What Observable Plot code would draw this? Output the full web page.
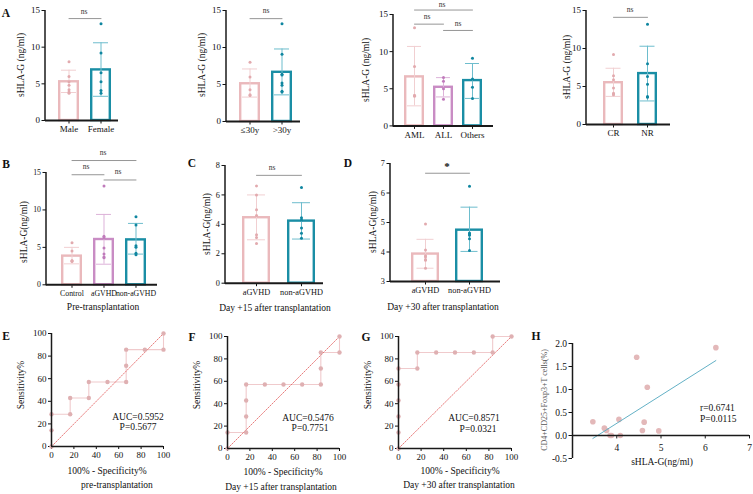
<!DOCTYPE html>
<html><head><meta charset="utf-8">
<script src="https://cdn.jsdelivr.net/npm/d3@7"></script>
<script src="https://cdn.jsdelivr.net/npm/@observablehq/plot@0.6"></script>
<style>
body{margin:0;background:#fff;}
#fig{position:relative;width:753px;height:494px;overflow:hidden;background:#fff;}
</style></head><body><div id="fig"></div><script>
// ---------------- DATA ----------------
const sexCats = ["Male", "Female"];
const sexMean = [5.28, 6.9];
const sexLo = [3.82, 3.3];
const sexHi = [6.86, 10.6];
const sexPts = [[8.0, 6.0, 5.3, 4.8, 4.2, 3.9, 3.7], [13.2, 9.2, 6.5, 5.3, 4.1, 3.7]];

const ageCats = ["≤30y", ">30y"];
const ageMean = [5.1, 6.65];
const ageLo = [3.3, 3.6];
const ageHi = [7.1, 9.8];
const agePts = [[8.0, 6.0, 4.3, 3.6, 3.5], [13.2, 9.1, 6.4, 6.3, 5.2, 4.9, 4.1, 4.0]];

const typeCats = ["AML", "ALL", "Others"];
const typeMean = [6.6, 5.2, 6.1];
const typeLo = [2.7, 3.9, 3.7];
const typeHi = [10.7, 6.5, 8.4];
const typePts = [[13.2, 8.0, 4.1, 4.0, 4.1], [6.5, 6.0, 5.0, 3.6], [9.1, 6.3, 5.2, 3.7]];

const respCats = ["CR", "NR"];
const respMean = [5.5, 6.7];
const respLo = [3.7, 3.1];
const respHi = [7.4, 10.3];
const respPts = [[9.2, 6.4, 5.9, 4.8, 4.1, 3.9, 4.0], [13.2, 8.0, 6.3, 5.3, 3.6, 3.7]];

const preCats = ["Control", "aGVHD", "non-aGVHD"];
const preMean = [3.83, 6.05, 6.0];
const preLo = [2.8, 2.75, 4.1];
const preHi = [5.0, 9.4, 8.2];
const prePts = [[5.6, 4.5, 3.2, 3.2, 3.1], [13.2, 6.5, 6.3, 4.9, 4.1, 3.7, 3.6], [9.1, 8.0, 5.2, 5.0, 4.2, 4.0]];

const d15Cats = ["aGVHD", "non-aGVHD"];
const d15Mean = [4.45, 4.22];
const d15Lo = [2.95, 3.0];
const d15Hi = [6.0, 5.47];
const d15Pts = [[6.6, 6.0, 5.0, 4.6, 3.3, 3.1, 2.7], [6.5, 4.45, 4.3, 3.75, 3.4, 3.05]];

const d30Cats = ["aGVHD", "non-aGVHD"];
const d30Mean = [3.93, 4.74];
const d30Lo = [3.45, 4.02];
const d30Hi = [4.43, 5.52];
const d30Pts = [[4.95, 4.07, 3.87, 3.83, 3.75, 3.72, 3.45], [6.23, 4.64, 4.61, 4.57, 4.45, 4.05]];

const ticks15 = [0, 5, 10, 15];
const ticks8 = [0, 2, 4, 6, 8];
const ticksD = [3, 4, 5, 6, 7];

const rocTicks = [0, 20, 40, 60, 80, 100];
const rocDiag = [0, 100];
const rocPreX = [0, 0, 0, 16.67, 16.67, 33.33, 33.33, 50, 66.67, 66.67, 66.67, 83.33, 100, 100];
const rocPreY = [0, 14.29, 28.57, 28.57, 42.86, 42.86, 57.14, 57.14, 57.14, 71.43, 85.71, 85.71, 85.71, 100];
const roc15X = [0, 0, 16.67, 16.67, 16.67, 16.67, 33.33, 50, 66.67, 83.33, 83.33, 83.33, 100, 100];
const roc15Y = [0, 14.29, 14.29, 28.57, 42.86, 57.14, 57.14, 57.14, 57.14, 57.14, 71.43, 85.71, 85.71, 100];
const roc30X = [0, 0, 0, 0, 0, 0, 16.67, 16.67, 33.33, 50, 66.67, 83.33, 83.33, 100];
const roc30Y = [0, 14.29, 28.57, 42.86, 57.14, 71.43, 71.43, 85.71, 85.71, 85.71, 85.71, 85.71, 100, 100];

const corrX = [3.46, 3.72, 3.77, 3.85, 3.88, 4.05, 4.08, 4.45, 4.62, 4.58, 4.69, 4.95, 6.24];
const corrY = [0.30, 0.16, 0.11, 0.00, 0.00, 0.35, 0.00, 1.70, 0.29, 0.11, 1.05, 0.10, 1.91];
const corrXTicks = [4, 5, 6, 7];
const corrYTicks = [-0.5, 0, 0.5, 1, 1.5, 2];

// ---------------- STYLE / LAYOUT ----------------
const FONT = '"Liberation Serif","Times New Roman",serif';
const PINK = {bar: "#eab9bc", pt: "#e2aaae", err: "#f1cfd1"};
const PURP = {bar: "#c98cc4", pt: "#c07bbb", err: "#ddb3d9"};
const TEAL = {bar: "#1a8ea5", pt: "#0f86a0", err: "#6dbdcd"};
const AXIS = "#1a1a1a";
const root = document.getElementById("fig");

function put(node, left, top) {
  node.style.position = "absolute";
  node.style.left = left + "px";
  node.style.top = top + "px";
  root.appendChild(node);
}
function T(s, x, y, o = {}) {
  const size = o.size || 9, weight = o.weight || "normal", anchor = o.anchor || "middle";
  const rot = o.rotate || 0, color = o.color || "#111";
  const d = document.createElement("div");
  d.textContent = s;
  const tx = anchor === "middle" ? -50 : anchor === "end" ? -100 : 0;
  d.style.cssText = `position:absolute;left:${x}px;top:${y}px;font-family:${FONT};font-size:${size}px;font-weight:${weight};color:${color};white-space:nowrap;line-height:1;transform:translate(${tx}%,-50%) rotate(${rot}deg);`;
  root.appendChild(d);
}

function barPanel(p) {
  const [l, r, t, b] = p.frame;
  const n = p.cats.length, c = p.centers;
  const step = (c[n - 1] - c[0]) / (n - 1);
  const pi = 1 - p.bw / step;
  const W = r - l;
  const po = (W / step - n + pi) / 2;
  const align = (c[0] - p.bw / 2 - l) / (W - step * (n - pi));
  const ml = 34, mr = 12, mt = 30, mb = 22;
  const rows = p.cats.map((k, i) => ({k, mean: p.mean[i], lo: p.lo[i], hi: p.hi[i], col: p.colors[i]}));
  const pts = p.cats.flatMap((k, i) => p.pts[i].map(v => ({k, v, col: p.colors[i]})));
  const y0 = p.yDomain[0];
  const sig = (p.sig || []).flatMap((s, j) => [{k: s[0], y: s[2], g: j}, {k: s[1], y: s[2], g: j}]);
  const capIn = (p.bw - p.cap) / 2;
  const svg = Plot.plot({
    width: W + ml + mr, height: (b - t) + mt + mb,
    marginLeft: ml, marginRight: mr, marginTop: mt, marginBottom: mb,
    style: `background:transparent;overflow:visible;font-family:${FONT};font-size:${p.font}px;color:#111;`,
    x: {type: "band", domain: p.cats, paddingInner: pi, paddingOuter: po, align, tickSize: 3.5, tickPadding: 2, label: null},
    y: {domain: p.yDomain, ticks: p.yTicks, tickFormat: d => String(d), tickSize: 3.5, tickPadding: 2, label: null},
    marks: [
      Plot.barY(rows, {x: "k", y1: y0, y2: "mean", fill: "white", stroke: d => d.col.bar, strokeWidth: 2.4, insetLeft: 1.2, insetRight: 1.2}),
      Plot.ruleX(rows, {x: "k", y1: "lo", y2: "hi", stroke: d => d.col.err, strokeWidth: 1}),
      Plot.tickY(rows, {x: "k", y: "hi", stroke: d => d.col.err, strokeWidth: 1, insetLeft: capIn, insetRight: capIn}),
      Plot.tickY(rows, {x: "k", y: "lo", stroke: d => d.col.err, strokeWidth: 1, insetLeft: capIn, insetRight: capIn}),
      Plot.dot(pts, {x: "k", y: "v", r: 1.5, fill: d => d.col.pt, stroke: "none"}),
      Plot.line(sig, {x: "k", y: "y", z: "g", stroke: "#8a8a8a", strokeWidth: 0.9}),
      Plot.ruleY([y0], {stroke: AXIS, strokeWidth: 2})
    ]
  });
  d3.select(svg).append("line")
    .attr("x1", ml).attr("x2", ml).attr("y1", mt).attr("y2", mt + (b - t) + 1)
    .attr("stroke", AXIS).attr("stroke-width", 1.5);
  put(svg, l - ml, t - mt);
}

function rocPanel(p) {
  const [l, r, t, b] = p.frame;
  const ml = 30, mr = 10, mt = 10, mb = 20;
  const pts = p.xs.map((x, i) => ({x, y: p.ys[i]}));
  const svg = Plot.plot({
    width: (r - l) + ml + mr, height: (b - t) + mt + mb,
    marginLeft: ml, marginRight: mr, marginTop: mt, marginBottom: mb,
    style: `background:transparent;overflow:visible;font-family:${FONT};font-size:9px;color:#111;`,
    x: {domain: [0, 100], ticks: rocTicks, tickSize: 3, tickPadding: 2, label: null},
    y: {domain: [0, 100], ticks: rocTicks, tickSize: 3, tickPadding: 2, label: null},
    marks: [
      Plot.line(pts, {x: "x", y: "y", stroke: "#f0cacc", strokeWidth: 1.1}),
      Plot.line(rocDiag, {x: d => d, y: d => d, stroke: "#e25c5c", strokeWidth: 0.8, strokeDasharray: "1.5,1.5"}),
      Plot.dot(pts, {x: "x", y: "y", r: 2.2, fill: "#dfb0b2", stroke: "none"}),
      Plot.ruleX([0], {stroke: AXIS, strokeWidth: 1.5}),
      Plot.ruleY([0], {stroke: AXIS, strokeWidth: 1.5})
    ]
  });
  put(svg, l - ml, t - mt);
}

function corrPanel(p) {
  const [l, r, t, b] = p.frame;
  const ml = 30, mr = 10, mt = 10, mb = 10;
  const pts = corrX.map((x, i) => ({x, y: corrY[i]}));
  const svg = Plot.plot({
    width: (r - l) + ml + mr, height: (b - t) + mt + mb,
    marginLeft: ml, marginRight: mr, marginTop: mt, marginBottom: mb,
    style: `background:transparent;overflow:visible;font-family:${FONT};font-size:9.5px;color:#111;`,
    x: {domain: [3, 7], axis: null},
    y: {domain: [-0.5, 2], ticks: corrYTicks, tickFormat: d => d.toFixed(1), tickSize: 3.5, tickPadding: 2, label: null},
    marks: [
      Plot.dot(pts, {x: "x", y: "y", r: 2.8, fill: "#e3b8b9", stroke: "none"}),
      Plot.linearRegressionY(pts, {x: "x", y: "y", stroke: "#63b1c6", strokeWidth: 1, ci: 0}),
      Plot.ruleX([3], {stroke: AXIS, strokeWidth: 1.5}),
      Plot.ruleY([0], {stroke: AXIS, strokeWidth: 1.5}),
      Plot.ruleX(corrXTicks, {x: d => d, y1: 0, y2: -0.075, stroke: AXIS, strokeWidth: 1}),
      Plot.text(corrXTicks, {x: d => d, y: 0, dy: 12, text: d => String(d), fill: "#111"})
    ]
  });
  put(svg, l - ml, t - mt);
}

// ---------------- PANELS ----------------
barPanel({frame: [45, 118, 10, 120], centers: [68.5, 100.5], bw: 21, cap: 15, font: 9,
  cats: sexCats, mean: sexMean, lo: sexLo, hi: sexHi, pts: sexPts, colors: [PINK, TEAL],
  yDomain: [0, 15], yTicks: ticks15, sig: [["Male", "Female", 13.9]]});
barPanel({frame: [226, 300, 10, 121], centers: [249.5, 281.5], bw: 21, cap: 15, font: 9,
  cats: ageCats, mean: ageMean, lo: ageLo, hi: ageHi, pts: agePts, colors: [PINK, TEAL],
  yDomain: [0, 15], yTicks: ticks15, sig: [["≤30y", ">30y", 13.9]]});
barPanel({frame: [393, 493, 14.3, 125.7], centers: [413.5, 443.5, 472.5], bw: 20, cap: 14, font: 9,
  cats: typeCats, mean: typeMean, lo: typeLo, hi: typeHi, pts: typePts, colors: [PINK, PURP, TEAL],
  yDomain: [0, 15], yTicks: ticks15, sig: [["AML", "Others", 15.6], ["AML", "ALL", 13.7], ["ALL", "Others", 12.85]]});
barPanel({frame: [586, 670, 10, 124], centers: [613, 647], bw: 20, cap: 15, font: 9,
  cats: respCats, mean: respMean, lo: respLo, hi: respHi, pts: respPts, colors: [PINK, TEAL],
  yDomain: [0, 15], yTicks: ticks15, sig: [["CR", "NR", 14.1]]});
barPanel({frame: [46, 157, 171.7, 284], centers: [70.3, 102.5, 135.8], bw: 21, cap: 15, font: 7.8,
  cats: preCats, mean: preMean, lo: preLo, hi: preHi, pts: prePts, colors: [PINK, PURP, TEAL],
  yDomain: [0, 15], yTicks: ticks15, sig: [["Control", "non-aGVHD", 16.6], ["Control", "aGVHD", 14.7], ["aGVHD", "non-aGVHD", 14.0]]});
barPanel({frame: [225, 323, 165, 282.7], centers: [256, 301], bw: 28, cap: 18, font: 8.3,
  cats: d15Cats, mean: d15Mean, lo: d15Lo, hi: d15Hi, pts: d15Pts, colors: [PINK, TEAL],
  yDomain: [0, 8], yTicks: ticks8, sig: [["aGVHD", "non-aGVHD", 7.33]]});
barPanel({frame: [390, 500, 162.7, 280.7], centers: [424.7, 469.5], bw: 29, cap: 18, font: 8.3,
  cats: d30Cats, mean: d30Mean, lo: d30Lo, hi: d30Hi, pts: d30Pts, colors: [PINK, TEAL],
  yDomain: [3, 7], yTicks: ticksD, sig: [["aGVHD", "non-aGVHD", 6.67]]});

rocPanel({frame: [51, 163, 333, 446], xs: rocPreX, ys: rocPreY});
rocPanel({frame: [227, 339, 336, 448], xs: roc15X, ys: roc15Y});
rocPanel({frame: [398, 511, 336, 448], xs: roc30X, ys: roc30Y});
corrPanel({frame: [572, 749, 343, 458]});

// ---------------- TEXT ----------------
const L = {size: 11.5, weight: "bold"};
T("A", 6, 14, L); T("B", 6, 165, L); T("C", 192, 164, L); T("D", 348, 164, L);
T("E", 6, 337, L); T("F", 192, 338, L); T("G", 366, 338, L); T("H", 536, 337, L);

const YL = {size: 9.5, rotate: -90};
T("sHLA-G (ng/ml)", 22, 65, YL); T("sHLA-G (ng/ml)", 203, 65, YL);
T("sHLA-G (ng/ml)", 367, 70, YL); T("sHLA-G (ng/ml)", 568, 67, YL);
T("sHLA-G(ng/ml)", 25, 232, YL); T("sHLA-G(ng/ml)", 208, 224, YL); T("sHLA-G(ng/ml)", 374, 222, YL);
T("Sensitivity%", 22, 385, YL); T("Sensitivity%", 198, 385, YL); T("Sensitivity%", 369, 385, YL);
T("CD4+CD25+Foxp3+T cells(%)", 545, 400, {size: 8, rotate: -90, color: "#555"});

const NS = {size: 7.5, color: "#333"};
T("ns", 84, 12, NS); T("ns", 266, 11, NS);
T("ns", 442, 4.5, NS); T("ns", 427, 17, NS); T("ns", 458, 24, NS);
T("ns", 630, 10, NS);
T("ns", 103, 153, NS); T("ns", 86, 167, NS); T("ns", 118, 172, NS);
T("ns", 272, 168, NS);
T("*", 447, 166, {size: 11, weight: "bold"});

const ST = {size: 9.5};
T("Pre-transplantation", 103, 308, ST);
T("Day +15 after transplantation", 275, 309, ST);
T("Day +30 after transplantation", 443, 308, ST);
T("100% - Specificity%", 107, 472, ST); T("pre-transplantation", 117, 486, ST);
T("100% - Specificity%", 283, 473, ST); T("Day +15 after transplantation", 281, 488, ST);
T("100% - Specificity%", 460, 472, ST); T("Day +30 after transplantation", 459, 486, ST);
T("sHLA-G(ng/ml)", 662, 463, ST);

T("AUC=0.5952", 138, 418, ST); T("P=0.5677", 138, 428, ST);
T("AUC=0.5476", 308, 419, ST); T("P=0.7751", 310, 429, ST);
T("AUC=0.8571", 474, 419, ST); T("P=0.0321", 478, 430, ST);
T("r=0.6741", 700, 409, {size: 9.5, anchor: "start"}); T("P=0.0115", 700, 420, {size: 9.5, anchor: "start"});
</script></body></html>
